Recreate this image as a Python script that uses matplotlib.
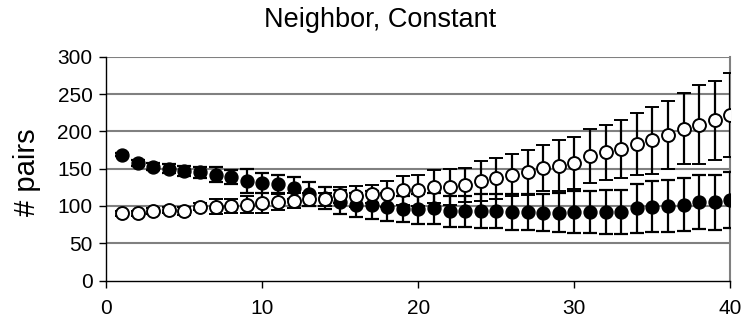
import matplotlib
matplotlib.use("Agg")
import matplotlib.pyplot as plt
import numpy as np

plt.rcParams['font.family'] = ['Liberation Sans', 'DejaVu Sans']

x = list(range(1, 41))
filled = [169, 158, 153, 150, 147, 145, 142, 139, 133, 131, 129, 124, 116, 111, 105, 101, 101, 99, 96, 96,
          97, 93, 93, 93, 93, 92, 92, 91, 91, 92, 92, 92, 92, 97, 99, 100, 102, 105, 105, 108]
filled_err = [2, 4, 5, 6, 7, 7, 10, 9, 16, 13, 12, 15, 16, 15, 16, 16, 19, 19, 18, 20,
              21, 21, 21, 23, 23, 24, 24, 25, 26, 28, 28, 29, 30, 33, 34, 35, 36, 36, 37, 38]
hollow = [90, 90, 93, 94, 93, 99, 99, 100, 102, 104, 105, 107, 109, 109, 115, 113, 116, 116, 121, 121,
          126, 126, 128, 134, 137, 142, 145, 151, 154, 158, 167, 172, 177, 183, 188, 195, 204, 209, 215, 222]
hollow_err = [3, 3, 4, 4, 5, 5, 10, 9, 12, 13, 11, 10, 9, 9, 11, 14, 12, 17, 19, 21,
              22, 24, 23, 27, 28, 28, 30, 31, 34, 35, 36, 37, 39, 42, 45, 46, 48, 53, 53, 56]
title = "Neighbor, Constant"
ylabel = "# pairs"
xticks = [0, 10, 20, 30, 40]
yticks = [0, 50, 100, 150, 200, 250, 300]

fig = plt.figure(figsize=(7.46, 3.29), dpi=100)
ax = fig.add_axes([106.3/746, 48.5/329, 624/746, 223.5/329])

ax.set_xlim(0, 40)
ax.set_ylim(0, 300)
for yv in yticks[1:]:
    ax.axhline(yv, color='#808080', lw=1.5, zorder=0)

ms = 9.3
cap = 5
lw = 1.6
ax.errorbar(x, filled, yerr=filled_err, fmt='o', color='black', mfc='black', mec='black',
            ms=ms, ecolor='black', elinewidth=lw, capsize=cap, capthick=lw, zorder=3)
ax.errorbar(x, hollow, yerr=hollow_err, fmt='o', color='black', mfc='white', mec='black',
            mew=1.4, ms=ms, ecolor='black', elinewidth=lw, capsize=cap, capthick=lw, zorder=4)

ax.spines['top'].set_visible(False)
ax.spines['right'].set_color('#808080')
ax.spines['right'].set_linewidth(1.5)
ax.spines['left'].set_color('black')
ax.spines['bottom'].set_color('black')
ax.spines['left'].set_linewidth(1.0)
ax.spines['bottom'].set_linewidth(1.0)

ax.set_xticks(xticks)
ax.set_yticks(yticks)
ax.tick_params(axis='both', direction='out', length=5, width=1, labelsize=15, colors='black')
ax.tick_params(axis='y', pad=5)
ax.tick_params(axis='x', pad=8)

fig.text(27/746, 1 - 172/329, ylabel, rotation=90, fontsize=21, ha='center', va='center')
fig.text(380/746, 1 - 27/329, title, fontsize=19.5, ha='center', va='baseline')

fig.savefig('out.png', dpi=100)
